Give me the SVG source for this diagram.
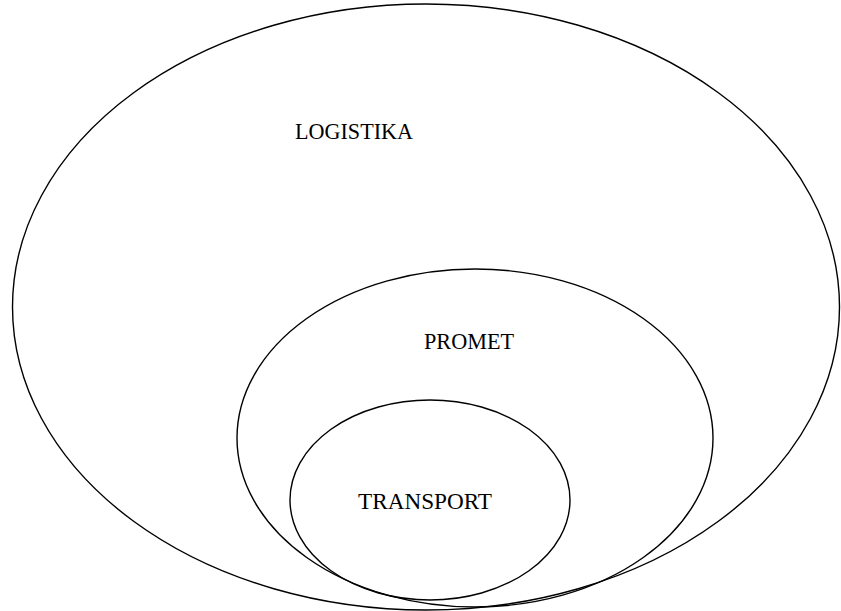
<svg xmlns="http://www.w3.org/2000/svg" width="841" height="611" viewBox="0 0 841 611">
<style>
.e{fill:none;stroke:#000;stroke-width:1.4}
.t{font-family:"Liberation Serif",serif;font-size:24px;fill:#000;text-anchor:middle}
</style>
<rect width="841" height="611" fill="#fff"/>
<g id="logistika"><ellipse class="e" cx="426" cy="307" rx="413.5" ry="303"/><text class="t" x="354" y="139" textLength="118" lengthAdjust="spacingAndGlyphs">LOGISTIKA</text></g>
<g id="promet"><ellipse class="e" cx="475" cy="438" rx="238" ry="169"/><text class="t" x="469" y="349" textLength="90" lengthAdjust="spacingAndGlyphs">PROMET</text></g>
<g id="transport"><ellipse class="e" cx="430" cy="500" rx="140" ry="100"/><text class="t" x="425" y="509" textLength="134" lengthAdjust="spacingAndGlyphs">TRANSPORT</text></g>
<g id="connectors"/>
</svg>
